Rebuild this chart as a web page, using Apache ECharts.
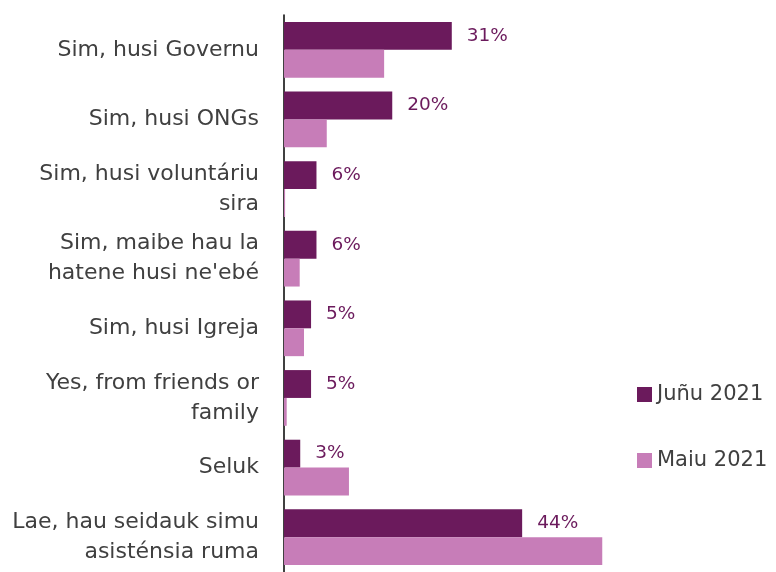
<!DOCTYPE html>
<html>
<head>
<meta charset="utf-8">
<script src="https://cdn.jsdelivr.net/npm/echarts@6/dist/echarts.min.js"></script>
<style>
  html, body { margin: 0; padding: 0; background: #ffffff; }
  #chart { width: 776px; height: 572px; }
</style>
</head>
<body>
<div id="chart"></div>
<script>
// Answer categories, top to bottom
const categories = [
  "Sim, husi Governu",
  "Sim, husi ONGs",
  "Sim, husi voluntáriu\nsira",
  "Sim, maibe hau la\nhatene husi ne'ebé",
  "Sim, husi Igreja",
  "Yes, from friends or\nfamily",
  "Seluk",
  "Lae, hau seidauk simu\nasisténsia ruma"
];

// Share of respondents (%) per survey round
const junu2021 = [31, 20, 6, 6, 5, 5, 3, 44];
const maiu2021 = [18.5, 7.9, 0.2, 2.9, 3.7, 0.5, 12.0, 58.8];

const seriesNames = ["Juñu 2021", "Maiu 2021"];

const darkPurple = "#6b1a5c";
const lightPurple = "#c77db8";
const textGrey = "#404040";
const fontFamily = "'DejaVu Sans', sans-serif";

const chart = echarts.init(document.getElementById("chart"), null, { renderer: "canvas" });

chart.setOption({
  animation: false,
  textStyle: { fontFamily: fontFamily },
  grid: { left: 284, right: 59, top: 15, bottom: -3, containLabel: false },
  legend: {
    orient: "vertical",
    left: 632,
    top: 379,
    itemWidth: 15,
    itemHeight: 15,
    itemGap: 45,
    icon: "rect",
    textStyle: { color: textGrey, fontSize: 21, fontFamily: fontFamily },
    data: seriesNames
  },
  xAxis: {
    type: "value",
    min: 0,
    max: 80,
    show: false
  },
  yAxis: {
    type: "category",
    inverse: true,
    data: categories,
    axisLine: { show: true, lineStyle: { color: "#000000", width: 1.5 } },
    axisTick: { show: false },
    axisLabel: {
      color: textGrey,
      fontSize: 22,
      fontFamily: fontFamily,
      margin: 25,
      lineHeight: 30,
      align: "right"
    }
  },
  series: [
    {
      name: seriesNames[0],
      type: "bar",
      data: junu2021,
      barGap: "0%",
      barCategoryGap: "20%",
      itemStyle: { color: darkPurple },
      label: {
        show: true,
        position: "right",
        distance: 15,
        color: darkPurple,
        fontSize: 18.5,
        fontFamily: fontFamily,
        formatter: p => p.value + "%"
      }
    },
    {
      name: seriesNames[1],
      type: "bar",
      data: maiu2021,
      barGap: "0%",
      barCategoryGap: "20%",
      itemStyle: { color: lightPurple }
    }
  ]
});
</script>
</body>
</html>
